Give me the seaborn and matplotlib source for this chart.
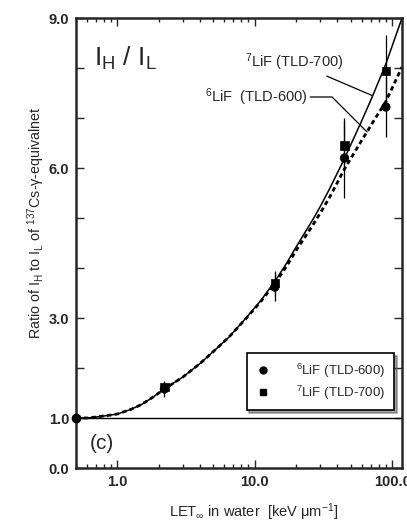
import matplotlib
matplotlib.use("Agg")
import matplotlib.pyplot as plt
import seaborn as sns
import pandas as pd

# ---- data ----
let_points = [2.2, 14.0, 45.0, 90.0]
lif6_ratio = [1.58, 3.62, 6.20, 7.22]
lif6_err = [0.15, 0.28, 0.80, 0.60]
lif7_ratio = [1.62, 3.70, 6.45, 7.94]
lif7_err = [0.12, 0.25, 0.50, 0.72]

ref_let = [0.5]
ref_ratio = [1.0]

curve_let = [0.5, 0.6, 0.7, 0.85, 1.0, 1.25, 1.5, 1.8, 2.2, 3.0, 4.0, 5.0, 6.5, 8.7, 11.0, 14.0,
             17.0, 20.0, 26.5, 30.0, 35.0, 45.0, 60.0, 72.6, 90.0, 118.0]
fit7_ratio = [1.00, 1.00, 1.02, 1.05, 1.08, 1.17, 1.27, 1.41, 1.58, 1.82, 2.09, 2.33, 2.62, 3.01, 3.34,
              3.73, 4.09, 4.42, 4.97, 5.23, 5.58, 6.19, 6.94, 7.46, 8.08, 9.00]
fit6_ratio = [1.00, 1.00, 1.02, 1.05, 1.08, 1.17, 1.27, 1.41, 1.58, 1.82, 2.09, 2.33, 2.62, 3.00, 3.32,
              3.69, 4.03, 4.35, 4.86, 5.10, 5.41, 5.98, 6.55, 6.92, 7.33, 8.02]

ytick_vals = [0, 1, 2, 3, 4, 5, 6, 7, 8, 9]
ytick_text = ["0.0", "1.0", "", "3.0", "", "", "6.0", "", "", "9.0"]
xtick_vals = [1, 10, 100]
xtick_text = ["1.0", "10.0", "100.0"]

sns.set_style("ticks")
plt.rcParams["font.family"] = ["Liberation Sans", "DejaVu Sans"]
plt.rcParams["mathtext.fontset"] = "custom"
plt.rcParams["mathtext.rm"] = "Liberation Sans"
plt.rcParams["mathtext.it"] = "Liberation Sans"

fig = plt.figure(figsize=(4.07, 5.25), dpi=100)
ax = fig.add_axes([76 / 407, 1 - 468 / 525, 326 / 407, 450 / 525])

curves = pd.DataFrame({"let": curve_let, "fit7": fit7_ratio, "fit6": fit6_ratio})
sns.lineplot(data=curves, x="let", y="fit7", ax=ax, color="black", lw=1.1, estimator=None, sort=False)
sns.lineplot(data=curves, x="let", y="fit6", ax=ax, color="black", lw=2.0, estimator=None, sort=False,
             linestyle=(0, (1.6, 1.2)))

ax.axhline(ref_ratio[0], color="black", lw=1.0)

ax.errorbar(let_points, lif6_ratio, yerr=lif6_err, fmt="none", ecolor="black", elinewidth=0.9, capsize=0)
ax.errorbar(let_points, lif7_ratio, yerr=lif7_err, fmt="none", ecolor="black", elinewidth=0.9, capsize=0)

pts = pd.DataFrame({"let": let_points * 2,
                    "ratio": lif6_ratio + lif7_ratio,
                    "kind": ["6"] * 4 + ["7"] * 4})
sns.scatterplot(data=pts, x="let", y="ratio", style="kind", markers={"6": "o", "7": "s"},
                color="black", s=38, edgecolor="black", ax=ax, legend=False, zorder=5)
ax.plot(ref_let, ref_ratio, "o", color="black", ms=6, clip_on=False, zorder=6)

ax.set_xscale("log")
ax.set_xlim(0.5, 118)
ax.set_ylim(0, 9)
ax.set_xticks(xtick_vals)
ax.set_xticklabels(xtick_text, fontsize=10.5, fontweight="bold")
ax.set_yticks(ytick_vals)
ax.set_yticklabels(ytick_text, fontsize=10.5, fontweight="bold")
ax.tick_params(which="both", direction="in", top=True, right=True, width=1.0)
ax.tick_params(which="major", length=6, pad=5)
ax.tick_params(which="minor", length=3)
for sp in ax.spines.values():
    sp.set_linewidth(1.8)

ax.set_xlabel(r"LET$_{\infty}$ in water  [keV $\mu$m$^{-1}$]", fontsize=10.5)
ax.xaxis.set_label_coords(0.546, -0.075)
ax.set_ylabel(r"Ratio of I$_H$ to I$_L$ of $^{137}$Cs-$\gamma$-equivalnet", fontsize=10.3)
ax.yaxis.set_label_coords(-0.09, 0.545)

ax.text(0.055, 0.94, r"I$_\mathregular{H}$ / I$_\mathregular{L}$", transform=ax.transAxes,
        fontsize=19, va="top", ha="left")
ax.text(0.043, 0.055, "(c)", transform=ax.transAxes, fontsize=15, va="center", ha="left")

ax.annotate(r"$^7$LiF (TLD-700)", xy=(71.5, 7.45), xytext=(43.9, 8.12),
            fontsize=10.5, ha="right", va="center",
            arrowprops=dict(arrowstyle="-", color="black", lw=0.9, shrinkA=0, shrinkB=0))
ax.annotate(r"$^6$LiF  (TLD-600)", xy=(65.7, 6.72), xytext=(24.0, 7.42),
            fontsize=10.5, ha="right", va="center",
            arrowprops=dict(arrowstyle="-", color="black", lw=0.9, shrinkA=0, shrinkB=0,
                            connectionstyle="angle,angleA=0,angleB=135,rad=0"))

h6 = plt.Line2D([], [], marker="o", color="black", ls="none", ms=5)
h7 = plt.Line2D([], [], marker="s", color="black", ls="none", ms=5)
leg = ax.legend([h6, h7], [r"$^6$LiF (TLD-600)", r"$^7$LiF (TLD-700)"],
                loc="lower right", bbox_to_anchor=(0.975, 0.128), fontsize=9.5,
                frameon=True, fancybox=False, shadow=True, edgecolor="black",
                borderpad=0.65, handlelength=1.2, handletextpad=1.9, labelspacing=0.3,
                borderaxespad=0)
leg.get_frame().set_linewidth(1.2)

fig.savefig("out.png", dpi=100)
